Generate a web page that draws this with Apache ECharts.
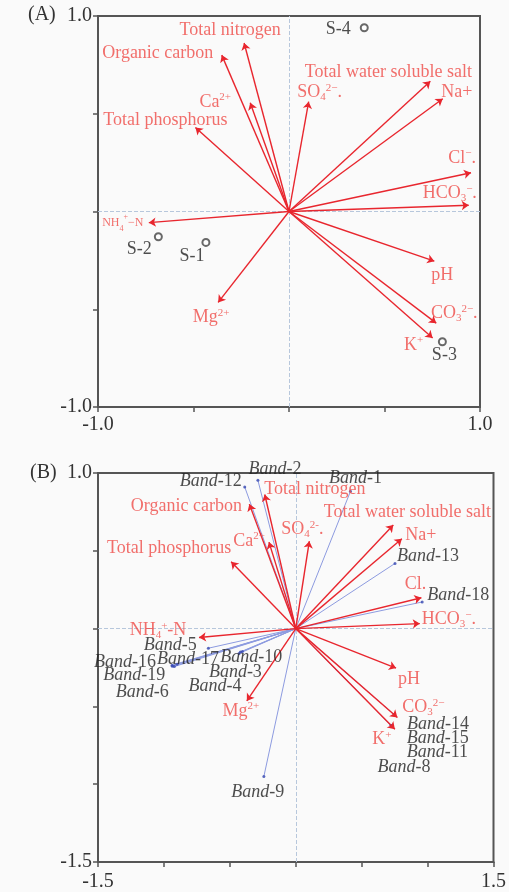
<!DOCTYPE html>
<html>
<head>
<meta charset="utf-8">
<title>RDA biplot</title>
<script src="https://cdn.jsdelivr.net/npm/echarts@6/dist/echarts.min.js"></script>
<style>html,body{margin:0;padding:0;background:#fafafa}</style>
</head>
<body>
<div id="main" style="width:509px;height:892px;"></div>
<script>
// environmental factors (same loadings in both panels)
var envLabelsA = ['Total nitrogen', 'Organic carbon', 'Ca{sup|2+}', 'Total phosphorus', 'SO{sub|4}{sup|2\u2212}.',
    'Total water soluble salt', 'Na+', 'Cl{sup|\u2212}.', 'HCO{sub|3}{sup|\u2212}.', 'NH{ssub|4}{ssup|+}\u2212N',
    'pH', 'CO{sub|3}{sup|2\u2212}.', 'K{sup|+}', 'Mg{sup|2+}'];
var envLabelsB = ['Total nitrogen', 'Organic carbon', 'Ca{sup|2+}', 'Total phosphorus', 'SO{sub|4}{sup|2-}.',
    'Total water soluble salt', 'Na+', 'Cl.', 'HCO{sub|3}{sup|\u2212}.', 'NH{sub|4}{sup|+}-N',
    'pH', 'CO{sub|3}{sup|2\u2212}', 'K{sup|+}', 'Mg{sup|2+}'];
var envX = [-0.235, -0.352, -0.203, -0.49, 0.103, 0.74, 0.805, 0.953, 0.941, -0.734, 0.761, 0.771, 0.752, -0.371];
var envY = [0.862, 0.80, 0.556, 0.43, 0.562, 0.666, 0.577, 0.198, 0.032, -0.057, -0.254, -0.571, -0.647, -0.465];

// sampling sites (panel A)
var sampleNames = ['S-1', 'S-2', 'S-3', 'S-4'];
var sampleX = [-0.435, -0.684, 0.803, 0.394];
var sampleY = [-0.158, -0.129, -0.666, 0.940];

// bands (panel B)
var bandNames = ['12', '2', '1', '13', '18', '5', '16', '17', '10', '3', '19', '4', '6', '9', '14', '15', '11', '8'];
var bandX = [-0.387, -0.287, 0.415, 0.753, 0.959, -0.663, -0.938, -0.901, -0.405, -0.42, -0.921, -0.43, -0.936, -0.242, 0.745, 0.728, 0.725, 0.722];
var bandY = [0.910, 0.953, 0.882, 0.419, 0.171, -0.126, -0.235, -0.229, -0.147, -0.15, -0.244, -0.16, -0.242, -0.951, -0.552, -0.626, -0.624, -0.621];

// axis ranges
var rangeA = [-1, 1];
var rangeB = [-1.5, 1.5];
var rangeBy = [-1.5, 1];

// label offsets in pixels (layout only)
var envOffA = [[-14, -13], [-64, -2], [-35, -1], [-30, -7], [11, -9], [-42, -9], [14, -6], [-9, -15], [-19, -12], [-26, 0], [8, 14], [18, -10], [-19, 7], [-7, 15]];
var envOffB = [[50, -5], [-63, 2], [-20, -1], [-62, -13], [-7, -12], [14, -13], [19, -4], [-6, -14], [29, -4], [-41, -7], [13, 11], [26, -10], [-13, 10], [-6, 10]];
var sampleOff = [[-14, 14], [-19, 13], [2, 14], [-26, 2]];
var bandOff = [[-34, -6], [17, -11], [5, -13], [33, -7], [36, -7], [-38, -3], [-47, -3], [11, -5], [9, 6], [-5, 20], [-40, 9], [-24, 33], [-30, 26], [-6, 16], [44, 10], [46, 12], [46, 27], [13, 42]];

var FONT = 'Liberation Serif';
var RED = '#e8262e';
var RED_TEXT = '#ef4b47';
var BLUE = '#8d9be0';
var FRAME = '#555';

var rich = {
    sup: { fontSize: 11, lineHeight: 12, verticalAlign: 'top', fontFamily: FONT, color: RED_TEXT },
    sub: { fontSize: 11, lineHeight: 12, verticalAlign: 'bottom', fontFamily: FONT, color: RED_TEXT },
    ssup: { fontSize: 8, lineHeight: 9, verticalAlign: 'top', fontFamily: FONT, color: RED_TEXT },
    ssub: { fontSize: 8, lineHeight: 9, verticalAlign: 'bottom', fontFamily: FONT, color: RED_TEXT },
    i: { fontStyle: 'italic', fontSize: 18, fontFamily: FONT, color: '#222' }
};

function endLabels(range) {
    return function (v) {
        return (v === range[0] || v === range[1]) ? v.toFixed(1) : '';
    };
}

function xAxis(idx, range, margin) {
    return {
        gridIndex: idx, type: 'value', min: range[0], max: range[1], interval: 0.5,
        axisLine: { show: true, onZero: false, lineStyle: { color: FRAME, width: 2 } },
        axisTick: { show: true, length: 5, lineStyle: { color: FRAME, width: 1.5 } },
        axisLabel: { show: true, showMinLabel: true, showMaxLabel: true, margin: margin, formatter: endLabels(range),
            fontFamily: FONT, fontSize: 20, color: '#333' },
        splitLine: { show: false }
    };
}

function yAxis(idx, range) {
    return {
        gridIndex: idx, type: 'value', min: range[0], max: range[1], interval: 0.5,
        axisLine: { show: true, onZero: false, lineStyle: { color: FRAME, width: 2 } },
        axisTick: { show: true, length: 5, lineStyle: { color: FRAME, width: 1.5 } },
        axisLabel: { show: true, showMinLabel: true, showMaxLabel: true, margin: 6, formatter: endLabels(range),
            fontFamily: FONT, fontSize: 20, color: '#333' },
        splitLine: { show: false }
    };
}

function arrows(idx) {
    return {
        type: 'lines', coordinateSystem: 'cartesian2d', xAxisIndex: idx, yAxisIndex: idx,
        symbol: ['none', 'arrow'], symbolSize: [0, 7], silent: true, z: 5,
        lineStyle: { color: RED, width: 1.4, opacity: 1 },
        data: envX.map(function (x, i) { return { coords: [[0, 0], [x, envY[i]]] }; })
    };
}

function textSeries(idx, xs, ys, texts, offs, color, z, small) {
    return {
        type: 'scatter', xAxisIndex: idx, yAxisIndex: idx, symbolSize: 0.1, silent: true, z: z,
        itemStyle: { color: 'transparent' },
        data: xs.map(function (x, i) {
            var d = { value: [x, ys[i]], label: { offset: offs[i] } };
            if (small && small[i]) d.label.fontSize = small[i];
            return d;
        }),
        label: {
            show: true, position: 'inside', align: 'center', verticalAlign: 'middle',
            formatter: function (p) { return texts[p.dataIndex]; },
            fontFamily: FONT, fontSize: 18, lineHeight: 20, color: color, rich: rich
        }
    };
}

function centerLines(idx) {
    return {
        type: 'scatter', xAxisIndex: idx, yAxisIndex: idx, data: [], silent: true, z: 1,
        markLine: {
            silent: true, symbol: 'none', label: { show: false },
            lineStyle: { type: 'dashed', color: '#b7c7dc', width: 1 },
            data: [{ xAxis: 0 }, { yAxis: 0 }]
        }
    };
}

var chart = echarts.init(document.getElementById('main'));

var smallA = envLabelsA.map(function (t, i) { return i === 9 ? 12 : 0; });

var option = {
    backgroundColor: '#fafafa',
    animation: false,
    grid: [
        { left: 98, top: 16, width: 382, height: 391, show: true, borderColor: FRAME, borderWidth: 2, backgroundColor: '#fafafa' },
        { left: 98, top: 473, width: 399, height: 390, show: true, borderColor: FRAME, borderWidth: 2, backgroundColor: '#fafafa' }
    ],
    xAxis: [xAxis(0, rangeA, 8), xAxis(1, rangeB, 10)],
    yAxis: [yAxis(0, rangeA), yAxis(1, rangeBy)],
    graphic: [
        { type: 'text', left: 28, top: 5, style: { text: '(A)', font: '20px "Liberation Serif"', fill: '#333' } },
        { type: 'text', left: 30, top: 463, style: { text: '(B)', font: '20px "Liberation Serif"', fill: '#333' } }
    ],
    series: [
        centerLines(0),
        centerLines(1),
        // panel A
        arrows(0),
        textSeries(0, envX, envY, envLabelsA, envOffA, RED_TEXT, 10, smallA),
        {
            type: 'scatter', xAxisIndex: 0, yAxisIndex: 0, symbol: 'emptyCircle', symbolSize: 7, silent: true, z: 6,
            itemStyle: { color: '#444', borderColor: '#444', borderWidth: 1 },
            data: sampleX.map(function (x, i) { return [x, sampleY[i]]; })
        },
        textSeries(0, sampleX, sampleY, sampleNames, sampleOff, '#222', 10),
        // panel B
        {
            type: 'lines', coordinateSystem: 'cartesian2d', xAxisIndex: 1, yAxisIndex: 1,
            symbol: 'none', silent: true, z: 3,
            lineStyle: { color: BLUE, width: 1, opacity: 1 },
            data: bandX.map(function (x, i) { return { coords: [[0, 0], [x, bandY[i]]] }; })
        },
        {
            type: 'scatter', xAxisIndex: 1, yAxisIndex: 1, symbolSize: 3, silent: true, z: 4,
            itemStyle: { color: '#3546b0' },
            data: bandX.map(function (x, i) { return [x, bandY[i]]; })
        },
        arrows(1),
        textSeries(1, envX, envY, envLabelsB, envOffB, RED_TEXT, 10),
        textSeries(1, bandX, bandY, bandNames.map(function (n) { return '{i|Band}-' + n; }), bandOff, '#222', 11)
    ]
};

chart.setOption(option);
</script>
</body>
</html>
